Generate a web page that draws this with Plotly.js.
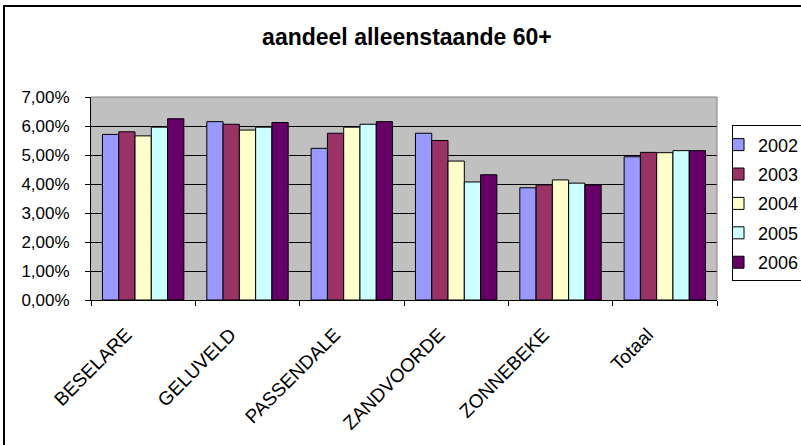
<!DOCTYPE html>
<html>
<head>
<meta charset="utf-8">
<script src="https://cdn.plot.ly/plotly-3.0.1.min.js"></script>
<style>html,body{margin:0;padding:0;background:#fff;}#chart{width:801px;height:445px;}</style>
</head>
<body>
<div id="chart"></div>
<script>
const categories = ["BESELARE", "GELUVELD", "PASSENDALE", "ZANDVOORDE", "ZONNEBEKE", "Totaal"];
const years = ["2002", "2003", "2004", "2005", "2006"];
const v2002 = [0.0571, 0.0615, 0.0523, 0.0575, 0.0387, 0.0494];
const v2003 = [0.0580, 0.0606, 0.0575, 0.0550, 0.0397, 0.0509];
const v2004 = [0.0566, 0.0586, 0.0596, 0.0479, 0.0414, 0.0508];
const v2005 = [0.0596, 0.0596, 0.0606, 0.0407, 0.0403, 0.0515];
const v2006 = [0.0625, 0.0612, 0.0615, 0.0432, 0.0397, 0.0515];
const seriesValues = [v2002, v2003, v2004, v2005, v2006];
const colors = ["#9999FF", "#993366", "#FFFFCC", "#CCFFFF", "#660066"];
const yTicks = [0, 0.01, 0.02, 0.03, 0.04, 0.05, 0.06, 0.07];

const FONT = '"Liberation Sans", Arial, sans-serif';

const traces = years.map((y, i) => ({
  type: 'bar',
  name: y,
  x: categories,
  y: seriesValues[i],
  legendgroup: y,
  marker: {color: colors[i], line: {color: '#000000', width: 1}},
  hoverinfo: 'x+y+name'
}));

const layout = {
  width: 801, height: 445,
  separators: ',.',
  margin: {l: 91, r: 84, t: 97, b: 145, pad: 0, autoexpand: false},
  paper_bgcolor: '#FFFFFF',
  plot_bgcolor: '#C0C0C0',
  font: {family: FONT, color: '#000000', size: 17},
  title: {
    text: '<b>aandeel alleenstaande 60+</b>',
    font: {family: FONT, size: 23, color: '#000000'},
    x: 0.508, xref: 'container', xanchor: 'center',
    y: 0.918, yref: 'container', yanchor: 'middle'
  },
  barmode: 'group',
  bargap: 0.22,
  bargroupgap: 0,
  xaxis: {
    type: 'category',
    tickangle: -45,
    tickfont: {family: FONT, size: 19},
    ticklabelshift: -17,
    ticklabelstandoff: 15,
    showline: true, linecolor: '#000000', linewidth: 1,
    ticks: 'outside', tickson: 'boundaries', ticklen: 5, tickcolor: '#000000',
    showgrid: false, zeroline: false
  },
  yaxis: {
    range: [0, 0.07],
    tickvals: yTicks,
    tickformat: '.2%',
    tickfont: {family: FONT, size: 17},
    ticklabelstandoff: 12,
    showline: true, linecolor: '#000000', linewidth: 1,
    ticks: 'outside', ticklen: 5, tickcolor: '#000000',
    showgrid: true, gridcolor: '#000000', gridwidth: 1,
    zeroline: false
  },
  legend: {
    x: 1.024, xanchor: 'left',
    y: 0.86, yanchor: 'top',
    bgcolor: '#FFFFFF',
    bordercolor: '#000000', borderwidth: 1,
    font: {family: FONT, size: 18},
    indentation: -15,
    itemwidth: 30,
    traceorder: 'grouped',
    tracegroupgap: 3,
    itemclick: false
  },
  shapes: [
    {type: 'line', xref: 'paper', yref: 'paper', x0: 0, x1: 1, y0: 1, y1: 1, line: {color: '#808080', width: 1}, layer: 'above'},
    {type: 'line', xref: 'paper', yref: 'paper', x0: 1, x1: 1, y0: 0, y1: 1, line: {color: '#808080', width: 1}, layer: 'above'},
    {type: 'rect', xref: 'paper', yref: 'paper', x0: -0.139, x1: 1.2, y0: -0.8, y1: 1.448, line: {color: '#000000', width: 2}, fillcolor: 'rgba(0,0,0,0)', layer: 'below'}
  ]
};

Plotly.newPlot('chart', traces, layout, {displayModeBar: false, staticPlot: true});
</script>
</body>
</html>
